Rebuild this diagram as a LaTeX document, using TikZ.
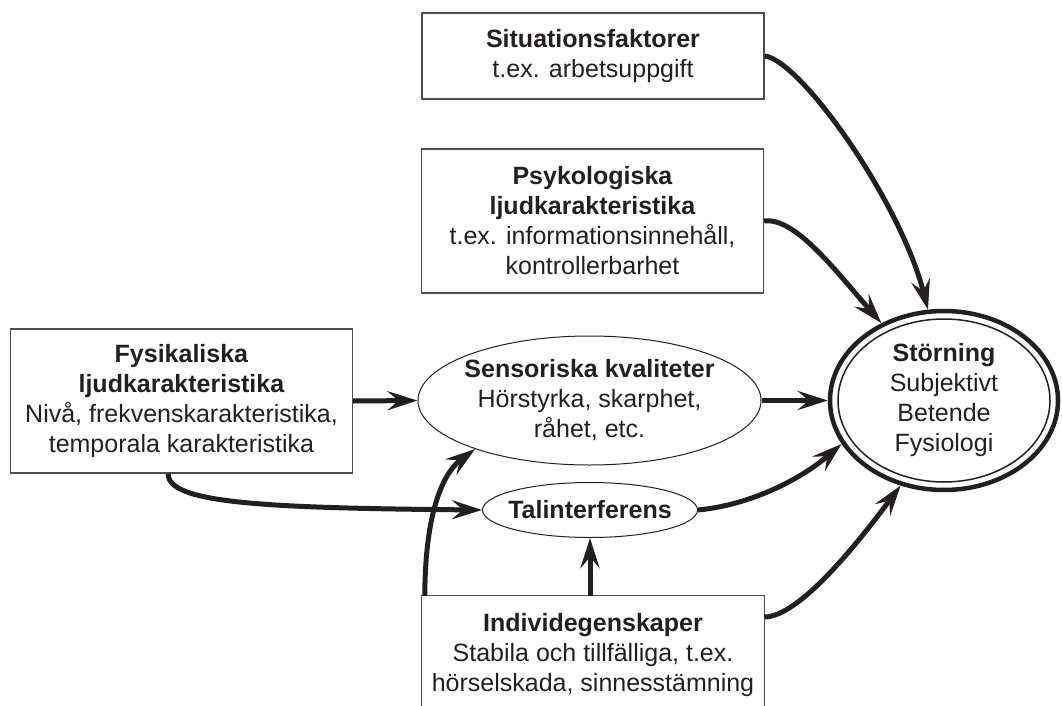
\documentclass[tikz,border=0pt]{standalone}
\usepackage{fontspec}
\setmainfont{Liberation Sans}
\usetikzlibrary{arrows.meta,shapes.geometric}
\definecolor{ink}{RGB}{35,31,32}
\begin{document}
\begin{tikzpicture}[x=1pt,y=-1pt,
  font=\fontsize{25}{30}\selectfont,
  every node/.style={text=ink},
  box/.style={draw=ink!80, line width=1.3pt, rectangle, align=center, inner sep=0pt, minimum width=342pt},
  boxline/.style={draw=ink!80, line width=1.3pt},
  oval/.style={draw=ink, line width=1pt, ellipse, inner sep=0pt},
  lbl/.style={align=center, inner sep=0pt},
  arr/.style={draw=ink, line width=5pt, -{Stealth[length=30pt,width=19pt,inset=11pt]}},
]
\useasboundingbox (0,0) rectangle (1062,706);
\coordinate (bot) at (0,706);

\node[box, minimum height=86pt] (sit) at (593,56) {\textbf{Situationsfaktorer}\\t.ex. arbetsuppgift};
\node[box, minimum height=144pt] (psy) at (592.5,221) {\textbf{Psykologiska}\\\textbf{ljudkarakteristika}\\t.ex. informationsinnehåll,\\kontrollerbarhet};
\node[box, minimum height=144pt] (fys) at (181.5,401) {\textbf{Fysikaliska}\\\textbf{ljudkarakteristika}\\Nivå, frekvenskarakteristika,\\temporala karakteristika};

\node[oval, minimum width=343pt, minimum height=129pt] (sen) at (589.5,400.5) {};
\node[lbl] (sentext) at (sen.center) {\textbf{Sensoriska kvaliteter}\\Hörstyrka, skarphet,\\råhet, etc.};

\node[oval, minimum width=215pt, minimum height=55pt] (tal) at (590,510) {};
\node[lbl] (taltext) at (tal.center) {\textbf{Talinterferens}};

\node[ellipse, draw=ink, line width=4.5pt, minimum width=228pt, minimum height=179pt, inner sep=0pt] (sto) at (944,400.5) {};
\draw[ink, line width=1.5pt] (sto.center) ellipse [x radius=106pt, y radius=81.5pt];
\node[lbl] (stotext) at (sto.center) {\textbf{Störning}\\Subjektivt\\Betende\\Fysiologi};

\node[lbl, minimum width=342pt, minimum height=118pt] (ind) at (593,655) {\textbf{Individegenskaper}\\Stabila och tillfälliga, t.ex.\\hörselskada, sinnesstämning};
\draw[boxline] (ind.north west |- bot) -- (ind.north west) -- (ind.north east) -- (ind.north east |- bot);

\draw[arr] (sit.east) .. controls (800,60) and (900,200) .. (sto.100);
\draw[arr] (psy.east) .. controls (795,217) and (835,270) .. (sto.129);
\draw[arr] (fys.east) -- (sen.west);
\draw[arr] (sen.east) -- (sto.west);
\coordinate (fysb) at ([xshift=-13.5pt]fys.south);
\draw[arr] (fysb) .. controls (168,503) and (260,508) .. (tal.west);
\draw[arr] (tal.east) .. controls (750,505) and (800,480) .. (sto.203);
\draw[arr] (tal.south |- ind.north) -- (tal.south);
\draw[arr] ([xshift=3pt]ind.north west) .. controls (425,520) and (440,475) .. (sen.203);
\draw[arr] ([yshift=38pt]ind.east) .. controls (800,617) and (860,540) .. (sto.243);
\end{tikzpicture}
\end{document}
